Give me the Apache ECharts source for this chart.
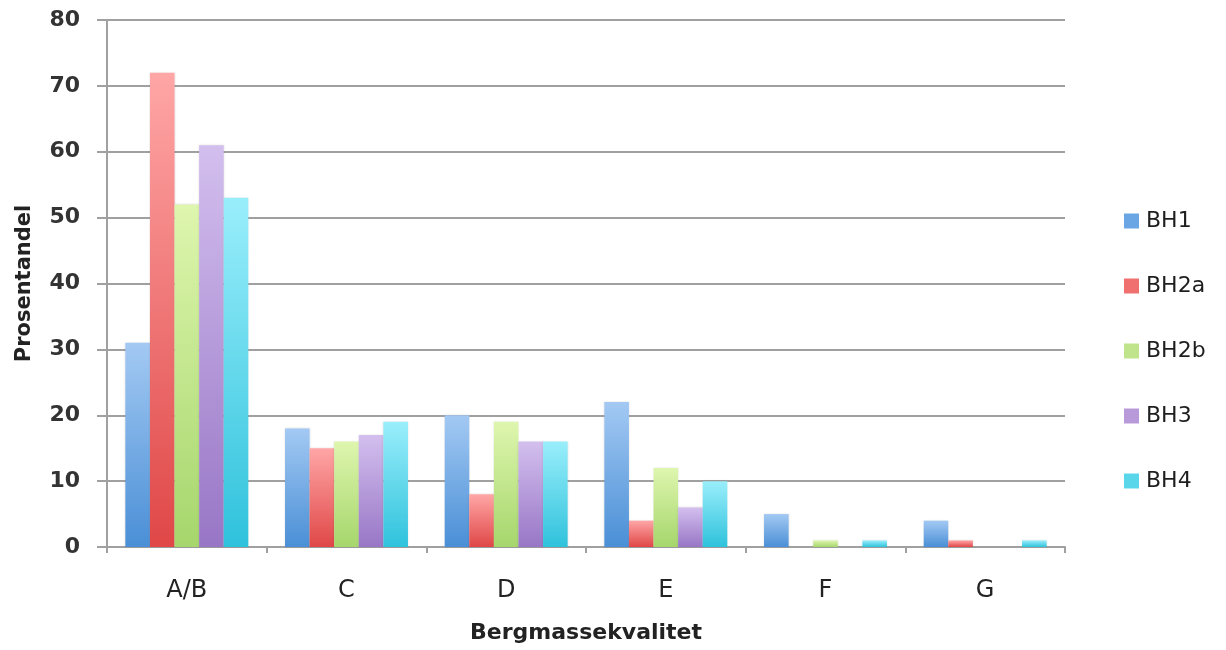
<!DOCTYPE html>
<html>
<head>
<meta charset="utf-8">
<script src="https://cdn.jsdelivr.net/npm/echarts@6/dist/echarts.min.js"></script>
<style>
  html, body { margin: 0; padding: 0; background: #fff; }
  #chart { width: 1226px; height: 650px; }
</style>
</head>
<body>
<div id="chart"></div>
<script>
// Rock mass quality classes and the share (%) of each borehole in each class
const categories = ['A/B', 'C', 'D', 'E', 'F', 'G'];
const seriesNames = ['BH1', 'BH2a', 'BH2b', 'BH3', 'BH4'];
const bh1  = [31, 18, 20, 22, 5, 4];
const bh2a = [72, 15, 8, 4, 0, 1];
const bh2b = [52, 16, 19, 12, 1, 0];
const bh3  = [61, 17, 16, 6, 0, 0];
const bh4  = [53, 19, 16, 10, 1, 1];
const yTicks = [0, 10, 20, 30, 40, 50, 60, 70, 80];

const seriesData = [bh1, bh2a, bh2b, bh3, bh4];
// light top / darker bottom per bar
const gradients = [
  ['#a3c9f3', '#4a8fd6'],
  ['#ffa6a6', '#e04747'],
  ['#def6ae', '#a6d66c'],
  ['#d3bfee', '#9876c6'],
  ['#9aeefb', '#2fc2dc']
];
const legendColors = ['#6aa6e4', '#f07070', '#bfe48c', '#b89ada', '#5ad6ea'];

const font = '"DejaVu Sans", sans-serif';

const chart = echarts.init(document.getElementById('chart'), null, { renderer: 'canvas' });

chart.setOption({
  animation: false,
  backgroundColor: '#fff',
  textStyle: { fontFamily: font },
  grid: { left: 107, right: 161, top: 20, bottom: 103 },
  legend: {
    orient: 'vertical',
    left: 1119,
    top: 205,
    itemWidth: 15,
    itemHeight: 15,
    itemGap: 43,
    icon: 'rect',
    textStyle: { fontFamily: font, fontSize: 22, color: '#1e1e1e', padding: [0, 0, 0, 2] },
    data: seriesNames.map((n, i) => ({ name: n, itemStyle: { color: legendColors[i] } }))
  },
  xAxis: {
    type: 'category',
    data: categories,
    name: 'Bergmassekvalitet',
    nameLocation: 'middle',
    nameGap: 75,
    nameTextStyle: { fontFamily: font, fontSize: 22, fontWeight: 'bold', color: '#222' },
    axisLine: { lineStyle: { color: '#a0a0a0', width: 2 } },
    axisTick: { show: true, length: 6, lineStyle: { color: '#a0a0a0', width: 2 } },
    axisLabel: { margin: 32, fontFamily: font, fontSize: 24, color: '#222' }
  },
  yAxis: {
    type: 'value',
    min: 0,
    max: 80,
    interval: 10,
    name: 'Prosentandel',
    nameLocation: 'middle',
    nameGap: 72,
    nameRotate: 90,
    nameTextStyle: { fontFamily: font, fontSize: 21, fontWeight: 'bold', color: '#222' },
    axisLine: { show: true, lineStyle: { color: '#a0a0a0', width: 2 } },
    axisTick: { show: true, length: 10, lineStyle: { color: '#a0a0a0', width: 2 } },
    axisLabel: {
      margin: 27,
      fontFamily: font,
      fontSize: 22,
      fontWeight: 'bold',
      color: '#333',
      formatter: v => (yTicks.includes(v) ? String(v) : '')
    },
    splitLine: { lineStyle: { color: '#a0a0a0', width: 2 } }
  },
  series: seriesNames.map((name, i) => ({
    name: name,
    type: 'bar',
    data: seriesData[i],
    barGap: '0%',
    barCategoryGap: '23%',
    itemStyle: {
      color: new echarts.graphic.LinearGradient(0, 0, 0, 1, [
        { offset: 0, color: gradients[i][0] },
        { offset: 1, color: gradients[i][1] }
      ]),
      shadowBlur: 2,
      shadowColor: 'rgba(0,0,0,0.12)'
    }
  }))
});
</script>
</body>
</html>
